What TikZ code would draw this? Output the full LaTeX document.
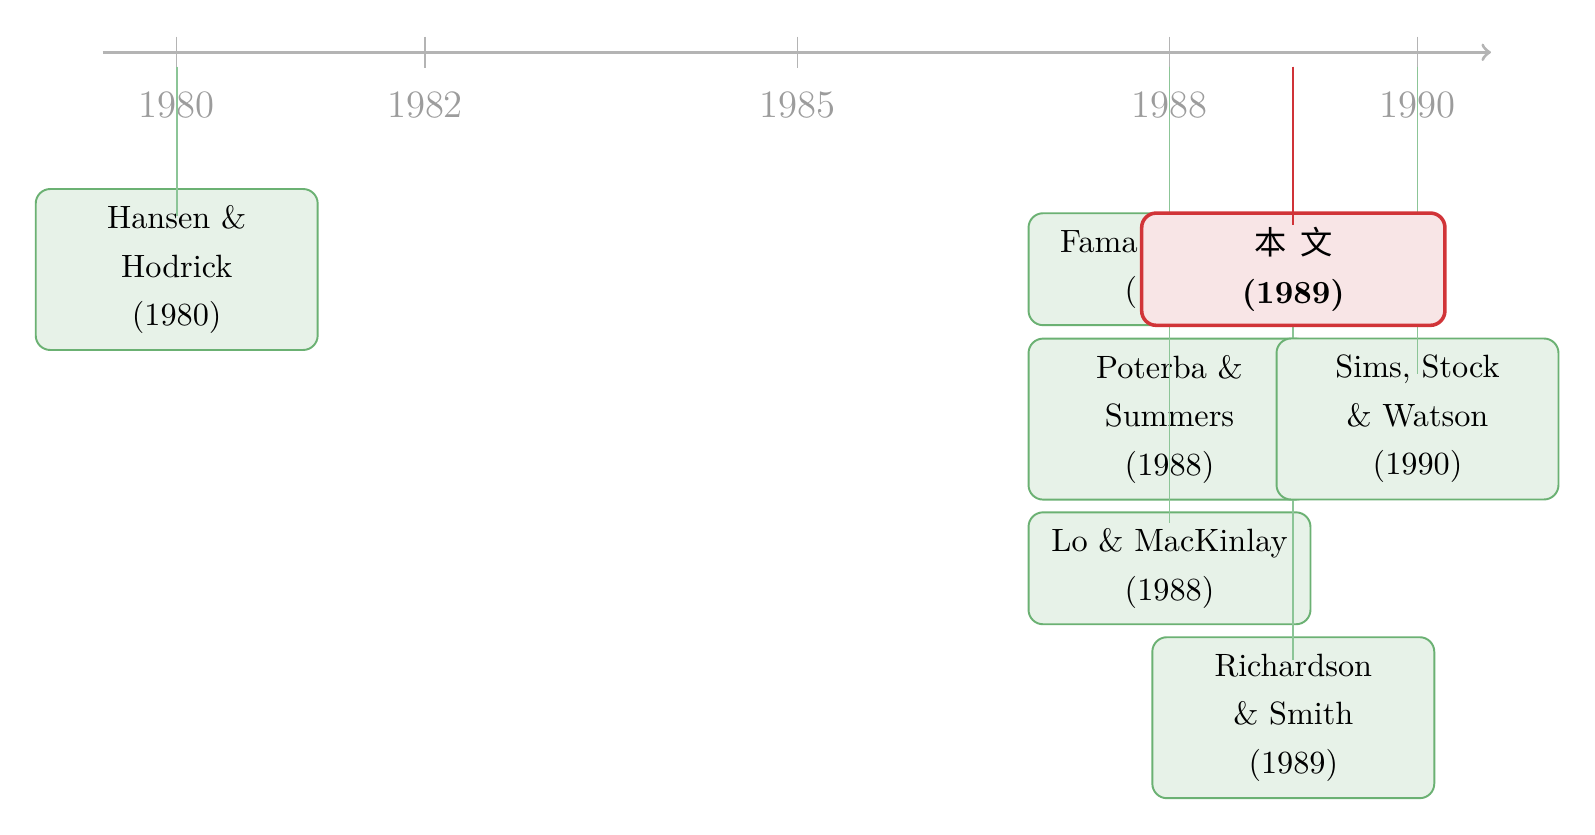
\documentclass[tikz,border=0pt]{standalone}
\usepackage{fontspec}
\newfontfamily\cjk{Noto Sans CJK SC}
\usetikzlibrary{calc}
\definecolor{axiscol}{HTML}{B4B4B4}
\definecolor{yearcol}{HTML}{9C9C9C}
\definecolor{gfill}{HTML}{E7F2E8}
\definecolor{gdraw}{HTML}{6BB173}
\definecolor{gline}{HTML}{8CC597}
\definecolor{rfill}{HTML}{F8E5E6}
\definecolor{rdraw}{HTML}{D13438}
\definecolor{rline}{HTML}{D03338}
\tikzset{
  axisline/.style={draw=axiscol, line width=1pt, ->},
  tickline/.style={draw=axiscol, line width=0.45pt},
  yearlabel/.style={anchor=base, font=\large, text=yearcol, inner sep=0pt},
  evbox/.style={draw=gdraw, fill=gfill, line width=0.6pt, rounded corners=4.5pt,
    minimum width=87.4pt, text width=80pt, align=center, inner sep=2pt,
    font=\fontsize{10}{15}\selectfont},
  ev3/.style={evbox, minimum height=49.9pt},
  ev2/.style={evbox, minimum height=34.7pt},
  mainbox/.style={draw=rdraw, fill=rfill, line width=1.1pt, rounded corners=4.5pt,
    minimum width=94pt, minimum height=34.8pt, text width=85pt, align=center, inner sep=2pt,
    font=\fontsize{10}{15}\selectfont\bfseries},
  conn/.style={draw=gline, line width=0.55pt},
  mainconn/.style={draw=rline, line width=0.55pt}
}
\begin{document}
\begin{tikzpicture}[x=0.31pt, y=-0.31pt]
\useasboundingbox (0,0) rectangle (1595,835);
% axis
\coordinate (axstart) at (102.7,52.3);
\coordinate (axend) at (1491,52.3);
\draw[axisline] (axstart) -- (axend);
% ticks and year labels
\foreach \yr/\xx in {1980/176.7, 1982/425.0, 1985/797.5, 1988/1169.5, 1990/1417.5}{
  \draw[tickline] (\xx,36.7) -- (\xx,68.0);
  \node[yearlabel] (y\yr) at (\xx,117.3) {\yr};
}
% start points of connectors
\coordinate (s1980) at (176.7,66.7);
\coordinate (s1988) at (1169.5,66.7);
\coordinate (s1989) at (1293.3,66.7);
\coordinate (s1990) at (1417.5,66.7);
% events
\node[ev3] (hansen) at (176.7,269.5) {Hansen \&\\Hodrick\\(1980)};
\draw[conn] (s1980) -- ($(hansen.north)+(0,27.7)$);
\node[ev2] (fama) at (1169.5,269.2) {Fama \& French\\(1988)};
\draw[conn] (s1988) -- ($(fama.north)+(0,25)$);
\node[ev3] (poterba) at (1169.5,419.1) {Poterba \&\\Summers\\(1988)};
\draw[conn] (s1988) -- ($(poterba.north)+(0,30)$);
\node[ev2] (lo) at (1169.5,568.3) {Lo \& MacKinlay\\(1988)};
\draw[conn] (s1988) -- ($(lo.north)+(0,12)$);
\node[ev3] (rich) at (1293.3,717.7) {Richardson\\\& Smith\\(1989)};
\draw[conn] (s1989) -- ($(rich.north)+(0,24)$);
\node[ev3] (sims) at (1417.5,419.0) {Sims, Stock\\\& Watson\\(1990)};
\draw[conn] (s1990) -- ($(sims.north)+(0,36)$);
% this paper
\node[mainbox] (main) at (1293.3,269.2) {{\cjk\mdseries 本\hspace{4.2pt}文}\\(1989)};
\draw[mainconn] (s1989) -- ($(main.north)+(0,14)$);
\end{tikzpicture}
\end{document}
